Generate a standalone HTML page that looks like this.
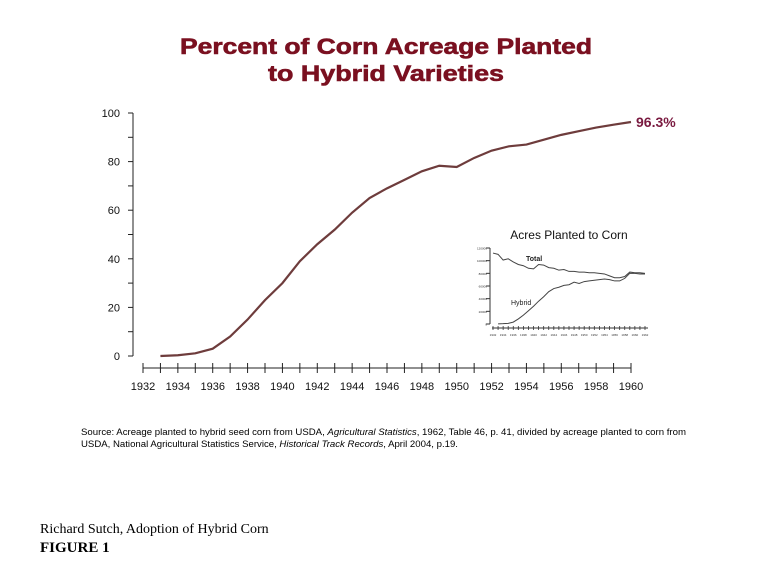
<!DOCTYPE html>
<html><head><meta charset="utf-8"><style>
body{margin:0;background:#fff;width:780px;height:562px;overflow:hidden;font-family:"Liberation Sans",sans-serif}
</style></head><body>
<svg id="fig" width="780" height="562" viewBox="0 0 780 562">
<text x="386" y="54" text-anchor="middle" font-size="22" font-weight="bold" fill="#7a1020" stroke="#7a1020" stroke-width="0.6" textLength="412" lengthAdjust="spacingAndGlyphs">Percent of Corn Acreage Planted</text>
<text x="386" y="81" text-anchor="middle" font-size="22" font-weight="bold" fill="#7a1020" stroke="#7a1020" stroke-width="0.6" textLength="236" lengthAdjust="spacingAndGlyphs">to Hybrid Varieties</text>
<g id="main"></g>
<g id="inset"></g>
<text x="81" y="435" font-size="9" fill="#000" textLength="605" lengthAdjust="spacingAndGlyphs">Source: Acreage planted to hybrid seed corn from USDA, <tspan font-style="italic">Agricultural Statistics</tspan>, 1962, Table 46, p. 41, divided by acreage planted to corn from</text>
<text x="81" y="447" font-size="9" fill="#000" textLength="377" lengthAdjust="spacingAndGlyphs">USDA, National Agricultural Statistics Service, <tspan font-style="italic">Historical Track Records</tspan>, April 2004, p.19.</text>
<text x="40" y="533" font-size="14" font-family="Liberation Serif,serif">Richard Sutch, Adoption of Hybrid Corn</text>
<text x="40" y="552" font-size="15" font-weight="bold" font-family="Liberation Serif,serif">FIGURE 1</text>
</svg>
<script>
const years=[1933,1934,1935,1936,1937,1938,1939,1940,1941,1942,1943,1944,1945,1946,1947,1948,1949,1950,1951,1952,1953,1954,1955,1956,1957,1958,1959,1960];
const pct=[0,0.3,1.1,3,8,15,23,30,39,46,52,59,65,69,72.5,76,78.3,77.8,81.5,84.5,86.3,87,89,91,92.5,94,95.2,96.3];
const yTicks=[0,20,40,60,80,100];
const xTicks=[1932,1934,1936,1938,1940,1942,1944,1946,1948,1950,1952,1954,1956,1958,1960];
const insetYears=[1932,1933,1934,1935,1936,1937,1938,1939,1940,1941,1942,1943,1944,1945,1946,1947,1948,1949,1950,1951,1952,1953,1954,1955,1956,1957,1958,1959,1960,1961,1962];
const insetTotal=[112,110,101,103,98,94,92,88,87,94,93,89,88,85,86,83,83,82,82,81,81,80,79,76,73,73,75,82,81,81,80];
const insetHybrid=[null,0.2,0.5,1,3,8,14,21,28,36,43,51,56,58,61,62,66,64,67,68,69,70,71,70,68,68,72,80,80,79,79];
const insetYTicks=[0,20000,40000,60000,80000,100000,120000];

const NS="http://www.w3.org/2000/svg";
function mk(p,t,a){const e=document.createElementNS(NS,t);for(const k in a)e.setAttribute(k,a[k]);p.appendChild(e);return e;}
const xs=v=>143+(v-1932)*(631-143)/28;
const ys=v=>356-v*(356-113)/100;
const g=document.getElementById('main');
let e=mk(g,'line',{x1:133,y1:113,x2:133,y2:356,stroke:'#222','stroke-width':1});


for(let v=0;v<=100;v+=10){e=mk(g,'line',{x1:128,x2:133,y1:ys(v),y2:ys(v),stroke:'#222'});

}
yTicks.forEach(v=>{e=mk(g,'text',{x:120,y:ys(v)+4,'text-anchor':'end','font-size':11,fill:'#111'});e.textContent=v;

});
e=mk(g,'line',{x1:xs(1932),x2:xs(1960),y1:368,y2:368,stroke:'#222'});


for(let y=1932;y<=1960;y++){e=mk(g,'line',{x1:xs(y),x2:xs(y),y1:363,y2:373,stroke:'#222'});

}
xTicks.forEach(v=>{e=mk(g,'text',{x:xs(v),y:390,'text-anchor':'middle','font-size':11,fill:'#111'});e.textContent=v;

});
e=mk(g,'polyline',{points:years.map((y,i)=>xs(y)+','+ys(pct[i])).join(' '),fill:'none',stroke:'#6e3c3c','stroke-width':2.2});


e=mk(g,'text',{x:xs(years[years.length-1])+5,y:ys(pct[pct.length-1])+5,'font-size':14,'font-weight':'bold',fill:'#7a1a40'});
e.textContent=pct[pct.length-1]+'%';



const ig=document.getElementById('inset');
const ixs=v=>493+(v-1932)*(645-493)/30;
const iys=v=>324-v*(324-248)/120;
e=mk(ig,'text',{x:569,y:239,'text-anchor':'middle','font-size':12,fill:'#111'});e.textContent='Acres Planted to Corn';


e=mk(ig,'line',{x1:490,x2:490,y1:248,y2:324,stroke:'#333'});


e=mk(ig,'line',{x1:492,x2:648,y1:328,y2:328,stroke:'#333'});


insetYTicks.forEach(v=>{e=mk(ig,'text',{x:487,y:iys(v/1000)+1.5,'text-anchor':'end','font-size':3,fill:'#333'});e.textContent=v;


mk(ig,'line',{x1:486,x2:490,y1:iys(v/1000),y2:iys(v/1000),stroke:'#333'});});
insetYears.forEach((y,i)=>{mk(ig,'line',{x1:ixs(y),x2:ixs(y),y1:326,y2:330,stroke:'#333','stroke-width':0.8});
if(i%2===0){e=mk(ig,'text',{x:ixs(y),y:336,'text-anchor':'middle','font-size':3,fill:'#333'});e.textContent=y;

}});
e=mk(ig,'polyline',{points:insetYears.map((y,i)=>ixs(y)+','+iys(insetTotal[i])).join(' '),fill:'none',stroke:'#444','stroke-width':1});


e=mk(ig,'polyline',{points:insetYears.map((y,i)=>insetHybrid[i]==null?null:ixs(y)+','+iys(insetHybrid[i])).filter(Boolean).join(' '),fill:'none',stroke:'#444','stroke-width':1});


e=mk(ig,'text',{x:526,y:261,'font-size':7,'font-weight':'bold',fill:'#222'});e.textContent='Total';


e=mk(ig,'text',{x:511,y:305,'font-size':7,fill:'#222'});e.textContent='Hybrid';


</script>
</body></html>
